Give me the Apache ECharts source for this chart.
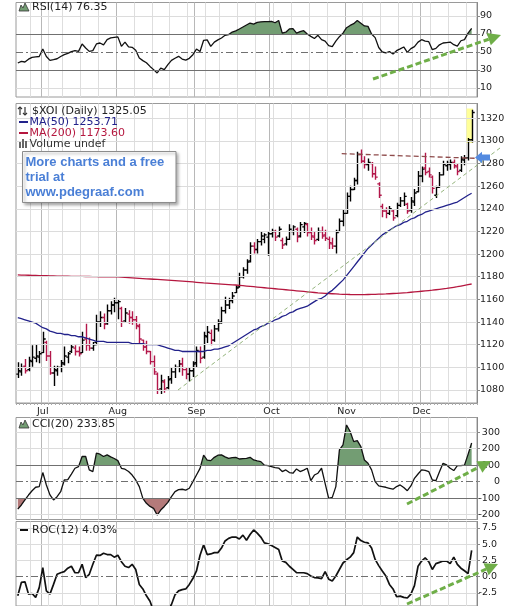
<!DOCTYPE html>
<html>
<head>
<meta charset="utf-8">
<title>$XOI Daily</title>
<script src="https://cdn.jsdelivr.net/npm/echarts@6/dist/echarts.min.js"></script>
<style>
  html, body { margin: 0; padding: 0; background: #fff; }
  #chart { width: 517px; height: 606px; }
</style>
</head>
<body>
<div id="chart"></div>
<script>
// trading days shown on the chart
const dates = [
  '2010-06-22','2010-06-23','2010-06-24','2010-06-25','2010-06-28','2010-06-29','2010-06-30',
  '2010-07-01','2010-07-02','2010-07-06','2010-07-07','2010-07-08','2010-07-09','2010-07-12','2010-07-13',
  '2010-07-14','2010-07-15','2010-07-16','2010-07-19','2010-07-20','2010-07-21','2010-07-22','2010-07-23',
  '2010-07-26','2010-07-27','2010-07-28','2010-07-29','2010-07-30',
  '2010-08-02','2010-08-03','2010-08-04','2010-08-05','2010-08-06','2010-08-09','2010-08-10','2010-08-11',
  '2010-08-12','2010-08-13','2010-08-16','2010-08-17','2010-08-18','2010-08-19','2010-08-20','2010-08-23',
  '2010-08-24','2010-08-25','2010-08-26','2010-08-27','2010-08-30','2010-08-31',
  '2010-09-01','2010-09-02','2010-09-03','2010-09-07','2010-09-08','2010-09-09','2010-09-10','2010-09-13',
  '2010-09-14','2010-09-15','2010-09-16','2010-09-17','2010-09-20','2010-09-21','2010-09-22','2010-09-23',
  '2010-09-24','2010-09-27','2010-09-28','2010-09-29','2010-09-30',
  '2010-10-01','2010-10-04','2010-10-05','2010-10-06','2010-10-07','2010-10-08','2010-10-11','2010-10-12',
  '2010-10-13','2010-10-14','2010-10-15','2010-10-18','2010-10-19','2010-10-20','2010-10-21','2010-10-22',
  '2010-10-25','2010-10-26','2010-10-27','2010-10-28','2010-10-29',
  '2010-11-01','2010-11-02','2010-11-03','2010-11-04','2010-11-05','2010-11-08','2010-11-09','2010-11-10',
  '2010-11-11','2010-11-12','2010-11-15','2010-11-16','2010-11-17','2010-11-18','2010-11-19','2010-11-22',
  '2010-11-23','2010-11-24','2010-11-26','2010-11-29','2010-11-30',
  '2010-12-01','2010-12-02','2010-12-03','2010-12-06','2010-12-07','2010-12-08','2010-12-09','2010-12-10',
  '2010-12-13','2010-12-14','2010-12-15','2010-12-16','2010-12-17','2010-12-20','2010-12-21'
];

const opens = [
  1094,1096,1101,1098,1105,1108,1109,1113,1122,1110,1095,1097,1100,1103,1109,1114,1117,1114,1113,1125,
  1120,1117,1122,1140,1144,1139,1150,1155,1157,1152,1141,1147,1144,1142,1136,1124,1118,1114,1105,1094,
  1081,1087,1082,1090,1096,1100,1103,1098,1094,1097,1104,1114,1109,1127,1130,1124,1134,1140,1150,1155,
  1159,1166,1171,1180,1186,1194,1207,1204,1211,1213,1215,1218,1220,1216,1212,1209,1213,1220,1222,1216,
  1224,1226,1219,1215,1213,1220,1217,1213,1209,1207,1220,1229,1236,1251,1257,1265,1288,1282,1279,1280,
  1271,1262,1242,1238,1236,1238,1234,1243,1247,1244,1239,1246,1255,1269,1276,1273,1268,1252,1259,1270,
  1278,1279,1281,1277,1274,1283,1285,1301
];
const highs = [
  1104,1103,1107,1109,1119,1120,1114,1131,1123,1114,1101,1101,1106,1118,1113,1120,1119,1118,1131,1138,
  1126,1122,1146,1149,1147,1155,1158,1161,1160,1153,1152,1150,1149,1145,1138,1124,1123,1114,1110,1095,
  1093,1089,1092,1099,1102,1106,1108,1099,1099,1105,1118,1118,1131,1136,1133,1137,1142,1153,1162,1161,
  1166,1172,1183,1188,1195,1210,1210,1213,1220,1218,1219,1222,1221,1224,1214,1215,1226,1225,1223,1228,
  1228,1227,1223,1219,1223,1224,1221,1215,1214,1221,1231,1239,1254,1260,1267,1290,1292,1286,1284,1281,
  1277,1263,1244,1241,1242,1239,1245,1250,1254,1245,1250,1257,1273,1277,1289,1276,1269,1260,1272,1282,
  1282,1283,1283,1280,1286,1287,1302,1327
];
const lows = [
  1091,1093,1095,1097,1101,1105,1104,1113,1106,1094,1084,1093,1096,1102,1104,1113,1111,1110,1113,1115,
  1115,1115,1120,1136,1134,1138,1147,1149,1143,1136,1140,1139,1138,1134,1122,1115,1112,1103,1094,1077,
  1077,1078,1081,1086,1091,1096,1093,1090,1088,1092,1100,1104,1108,1122,1120,1123,1132,1139,1148,1152,
  1157,1166,1171,1179,1183,1193,1201,1201,1208,1210,1199,1215,1212,1215,1205,1208,1213,1217,1211,1215,
  1219,1216,1213,1209,1212,1214,1212,1205,1205,1201,1220,1225,1236,1247,1257,1262,1280,1276,1274,1268,
  1266,1250,1233,1232,1235,1230,1233,1242,1243,1236,1237,1243,1255,1264,1270,1268,1254,1250,1259,1270,
  1274,1275,1276,1270,1273,1279,1283,1299
];
const closes = [
  1097,1100,1097,1106,1109,1110,1112,1125,1110,1095,1098,1100,1104,1110,1112,1118,1114,1112,1124,1120,
  1117,1120,1140,1144,1138,1150,1155,1157,1158,1140,1148,1144,1142,1137,1125,1118,1114,1105,1096,1080,
  1088,1081,1089,1096,1100,1103,1098,1094,1097,1103,1115,1108,1128,1131,1124,1134,1139,1150,1155,1159,
  1163,1170,1180,1186,1193,1207,1204,1211,1216,1217,1218,1220,1215,1222,1208,1213,1222,1224,1215,1226,
  1227,1219,1216,1212,1220,1216,1214,1210,1207,1219,1229,1236,1251,1257,1265,1288,1282,1279,1281,1271,
  1268,1252,1238,1236,1240,1232,1243,1247,1251,1238,1247,1254,1269,1275,1272,1270,1258,1259,1270,1279,
  1280,1281,1278,1273,1284,1285,1301,1325.05
];

const ma50 = [
  1144,1143,1142,1141,1140,1139,1137,1135,1134,1132,1131,1130,1130,1129,1129,1128,1128,1127,1127,1126,
  1125,1124,1123,1123,1123,1122,1122,1122,1122,1122,1122,1122,1121,1121,1121,1121,1120,1120,1120,1120,
  1119,1118,1117,1116,1115,1115,1114,1114,1114,1114,1114,1114,1114,1115,1115,1116,1116,1117,1118,1119,
  1121,1123,1125,1127,1129,1131,1133,1134,1136,1137,1139,1140,1142,1143,1145,1146,1148,1149,1151,1152,
  1153,1154,1156,1158,1160,1161,1163,1166,1168,1171,1174,1177,1181,1185,1189,1193,1197,1201,1205,1208,
  1211,1214,1217,1219,1221,1223,1225,1226,1228,1229,1231,1232,1234,1235,1237,1238,1239,1240,1241,1242,
  1243,1244,1245,1246,1248,1250,1252,1253.71
];
const ma200 = [
  1181.6,1181.5,1181.4,1181.3,1181.2,1181.1,1181,1181,1180.9,1180.8,1180.7,1180.6,1180.6,1180.5,1180.5,
  1180.4,1180.4,1180.3,1180.3,1180.2,1180.2,1180.1,1180.1,1180,1180,1180,1179.9,1179.9,1179.8,1179.6,
  1179.4,1179.2,1179,1178.8,1178.6,1178.4,1178.2,1178,1177.8,1177.6,1177.4,1177.2,1177,1176.8,1176.6,
  1176.4,1176.2,1176,1175.7,1175.4,1175.1,1174.8,1174.5,1174.3,1174.1,1173.9,1173.7,1173.5,1173.3,1173.1,
  1172.9,1172.7,1172.4,1172.1,1171.8,1171.5,1171.2,1170.9,1170.6,1170.3,1170,1169.7,1169.4,1169.1,1168.8,
  1168.5,1168.2,1167.9,1167.6,1167.3,1167,1166.7,1166.4,1166.1,1165.8,1165.6,1165.4,1165.2,1165,1164.8,
  1164.6,1164.5,1164.4,1164.3,1164.2,1164.2,1164.2,1164.2,1164.3,1164.4,1164.5,1164.6,1164.7,1164.8,1165,
  1165.2,1165.4,1165.6,1165.8,1166,1166.3,1166.6,1166.9,1167.2,1167.5,1167.8,1168.1,1168.5,1168.9,1169.3,
  1169.7,1170.2,1170.7,1171.2,1171.8,1172.4,1173,1173.6
];

const rsi = [
  37.8,39.6,38.9,42,44,44.5,45,53.3,45,40.7,41.5,42.5,45,47,48.5,50.5,51.5,50.7,58.9,54.4,
  50.7,51.5,58.9,60,58,63.7,65.6,66.3,66.8,56.3,61,55.6,55.2,52,43.3,40.4,38,34,30.4,26.7,
  32,30.4,36,40.7,43,45.2,42.2,41,43,47,53.3,50.5,63,63.5,56.3,61,63.5,65.6,68.5,69.3,
  72.2,73.5,75.6,77.8,80,82.2,81,83,83.5,83.7,83.7,84,82.5,85,71,72,75.6,76,71,72.6,
  73.7,70,67.4,65,68.5,63.7,62,57,56,62,67,71,77,79.5,81.5,85,82,79,78.5,70,
  66,55,50,49,50.5,47.8,51.5,53.5,55.6,49.6,53.7,56,61,63.7,62,61.5,52.6,54,58,60,
  60.5,61,58.1,56.5,62.5,63.7,71,76.35
];
const cci = [
  -166,-141,-111,-81,-55,-34,-30,55,-20,-80,-111,-91,-61,10,12,46,81,91,152,152,
  71,61,172,166,152,162,150,140,127,81,75,61,40,10,-30,-101,-131,-150,-162,-202,
  -172,-150,-125,-91,-60,-48,-46,-51,-40,0,40,80,160,130,127,147,160,162,150,141,
  145,147,137,139,141,147,131,125,121,100,97,91,85,82,61,71,55,51,77,61,
  70,81,6,40,51,81,-10,-101,-95,-30,192,222,343,303,242,248,212,131,111,71,
  0,-26,-30,-34,-40,-46,-30,-20,-35,-55,-26,20,46,71,68,61,10,6,60,111,
  101,81,67,97,97,100,165,233.85
];
const roc = [
  -2.96,-0.9,-0.8,-2.7,-2.6,-3.2,-1.7,1.4,-2.2,-2.7,-1.2,0.36,0.6,0.77,1.3,1.6,0.6,0.6,1.9,-0.15,
  0.36,1.9,3.3,3.27,3.6,3.4,3.4,3.0,3.3,2.3,1.6,1.4,1.9,1.1,-1.2,-1.9,-2.96,-3.8,-5.3,-6.2,
  -5.8,-6.0,-5.2,-4.3,-2.8,-2.2,-2.0,-1.9,-1.2,-0.3,0.87,3.3,4.9,3.4,3.5,3.7,3.7,4.4,5.5,5.9,
  6.1,6.1,5.8,6.4,5.6,6.5,7.2,6.7,6.1,5.2,5.05,4.8,4.5,4.2,2.4,2.2,1.6,1.1,0.6,0.6,
  0.6,0.46,0.1,-0.15,-0.2,-0.3,0.77,-0.4,-0.66,0.1,1.1,2.1,2.6,3.0,3.7,6.1,5.56,5.3,5.2,4.4,
  2.65,1.7,0.87,0.1,-1.2,-1.9,-3.1,-3.0,-3.2,-3.3,-2.7,-1.4,1.6,2.4,2.9,2.3,1.1,2.0,2.2,2.4,
  2.4,2.0,3.0,1.9,1.3,0.9,0.46,4.03
];

const rsiTicks = [10, 30, 50, 70, 90];
const priceTicks = [1080, 1100, 1120, 1140, 1160, 1180, 1200, 1220, 1240, 1260, 1280, 1300, 1320];
const cciTicks = [-200, -100, 0, 100, 200, 300];
const rocTicks = [-2.5, 0, 2.5, 5, 7.5];
const monthNames = ['Jan','Feb','Mar','Apr','May','Jun','Jul','Aug','Sep','Oct','Nov','Dec'];

const UP = '#000000';
const DOWN = '#b3174a';
const MA50_COLOR = '#22228b';
const MA200_COLOR = '#b5173f';
const GREEN = '#739d73';
const RED_FILL = '#b47a7a';
const ARROW_GREEN = '#6fae48';
const FONT = 'DejaVu Sans';

// one empty slot at the right edge, like the original
const cats = dates.concat(['']);

const weekStart = cats.map((d, i) => {
  if (!d || i === 0) return false;
  const a = new Date(cats[i - 1] + 'T00:00:00Z');
  const b = new Date(d + 'T00:00:00Z');
  return b.getUTCDay() < a.getUTCDay() || (b - a) >= 7 * 864e5;
});
const monthStart = cats.map((d, i) => i > 0 && !!d && d.slice(5, 7) !== cats[i - 1].slice(5, 7));

const ohlc = closes.map((c, i) => [i, opens[i], highs[i], lows[i], c, i > 0 && c < closes[i - 1] ? 1 : 0]);

function renderOHLC(params, api) {
  const i = api.value(0);
  const o = api.coord([i, api.value(1)]);
  const h = api.coord([i, api.value(2)]);
  const l = api.coord([i, api.value(3)]);
  const c = api.coord([i, api.value(4)]);
  const style = { stroke: api.value(5) ? DOWN : UP, lineWidth: 1.4 };
  const x = Math.round(h[0]) + 0.5;
  return {
    type: 'group',
    children: [
      { type: 'line', shape: { x1: x, y1: h[1] - 0.5, x2: x, y2: l[1] + 0.5 }, style },
      { type: 'line', shape: { x1: x - 2.2, y1: o[1], x2: x, y2: o[1] }, style },
      { type: 'line', shape: { x1: x, y1: c[1], x2: x + 2.2, y2: c[1] }, style }
    ]
  };
}

const GRID_LIGHT = { color: '#dcdcdc', width: 1, type: 'solid' };
const REF_LINE = { color: '#707070', width: 1, type: 'solid' };
const DASH_DOT = { color: '#707070', width: 1, type: [7, 3, 2, 3] };

function hLines(values, style) {
  return values.map(v => ({ yAxis: v, lineStyle: style }));
}
function markLines(data) {
  return { silent: true, symbol: 'none', label: { show: false }, animation: false, data };
}

function xPair(gi, withLabels) {
  return [
    {
      type: 'category', gridIndex: gi, data: cats, boundaryGap: true, position: 'bottom',
      axisLine: { show: withLabels, lineStyle: { color: '#999' } },
      axisTick: { show: withLabels, interval: 0, length: 2, lineStyle: { color: '#aaa' } },
      axisLabel: { show: false },
      splitLine: { show: true, interval: (i) => weekStart[i] && !monthStart[i], lineStyle: { color: '#dedede' } }
    },
    {
      type: 'category', gridIndex: gi, data: cats, boundaryGap: true, position: 'bottom',
      axisLine: { show: false }, axisTick: { show: false },
      axisLabel: {
        show: withLabels, interval: (i) => monthStart[i], margin: 4,
        formatter: (v) => v ? monthNames[+v.slice(5, 7) - 1] : '',
        color: '#222', fontFamily: FONT, fontSize: 9.5
      },
      splitLine: { show: true, interval: (i) => monthStart[i], lineStyle: { color: '#b8b8b8' } }
    }
  ];
}

function yAxis(gi, min, max, ticks, fmt, align, margin) {
  return {
    type: 'value', gridIndex: gi, position: 'right', min, max,
    axisLine: { show: true, lineStyle: { color: '#888' } },
    axisTick: { show: true, customValues: ticks, length: 3, lineStyle: { color: '#888' } },
    axisLabel: {
      customValues: ticks, formatter: fmt, color: '#222', fontFamily: FONT, fontSize: 9.5,
      align, margin
    },
    splitLine: { show: false }
  };
}

function arrow(x1, y1, x2, y2) {
  const dx = x2 - x1, dy = y2 - y1, len = Math.hypot(dx, dy);
  const ux = dx / len, uy = dy / len, hl = 13, hw = 6.5;
  const bx = x2 - ux * hl, by = y2 - uy * hl;
  return [
    { type: 'line', z: 100, shape: { x1, y1, x2: bx, y2: by },
      style: { stroke: ARROW_GREEN, lineWidth: 3, lineDash: [6, 3] } },
    { type: 'polygon', z: 100,
      shape: { points: [[x2, y2], [bx - uy * hw, by + ux * hw], [bx + uy * hw, by - ux * hw]] },
      style: { fill: ARROW_GREEN } }
  ];
}

function label(text, x, y, color, extra) {
  return Object.assign({
    type: 'text', z: 90,
    style: { text, x, y, fill: color || '#222', fontFamily: FONT, fontSize: 11, verticalAlign: 'middle' }
  }, extra || {});
}

function mountain(y) {
  return { type: 'polygon', z: 90,
    shape: { points: [[19, y + 4], [21, y - 2], [23, y + 1], [25, y - 4], [29, y + 4]] },
    style: { fill: GREEN, stroke: '#333', lineWidth: 0.8 } };
}

const graphics = [
  // yellow highlight of the last bar
  { type: 'rect', z: 1, shape: { x: 466.5, y: 108.5, width: 6.5, height: 34.5 }, style: { fill: '#ffff99' } },

  // panel titles
  mountain(7), label('RSI(14) 76.35', 32, 7),
  { type: 'polyline', z: 90, shape: { points: [[20, 107], [20, 115]] }, style: { stroke: '#333', lineWidth: 1.2 } },
  { type: 'polyline', z: 90, shape: { points: [[18, 109], [20, 107], [22, 109]] }, style: { stroke: '#333', lineWidth: 1.2, fill: null } },
  { type: 'polyline', z: 90, shape: { points: [[25, 107], [25, 115]] }, style: { stroke: '#333', lineWidth: 1.2 } },
  { type: 'polyline', z: 90, shape: { points: [[23, 113], [25, 115], [27, 113]] }, style: { stroke: '#333', lineWidth: 1.2, fill: null } },
  label('$XOI (Daily) 1325.05', 32, 111),
  { type: 'line', z: 90, shape: { x1: 19, y1: 122, x2: 28, y2: 122 }, style: { stroke: MA50_COLOR, lineWidth: 2 } },
  label('MA(50) 1253.71', 29.5, 122, MA50_COLOR),
  { type: 'line', z: 90, shape: { x1: 19, y1: 133, x2: 28, y2: 133 }, style: { stroke: MA200_COLOR, lineWidth: 2 } },
  label('MA(200) 1173.60', 29.5, 133, MA200_COLOR),
  { type: 'rect', z: 90, shape: { x: 19, y: 142, width: 2, height: 6 }, style: { fill: '#666' } },
  { type: 'rect', z: 90, shape: { x: 22, y: 139, width: 2, height: 9 }, style: { fill: '#666' } },
  { type: 'rect', z: 90, shape: { x: 25, y: 141, width: 2, height: 7 }, style: { fill: '#666' } },
  label('Volume undef', 29.5, 144, '#333'),
  mountain(424), label('CCI(20) 233.85', 32, 424.5),
  { type: 'line', z: 90, shape: { x1: 20, y1: 530, x2: 28, y2: 530 }, style: { stroke: '#111', lineWidth: 2 } },
  label('ROC(12) 4.03%', 32, 530),

  // promo box
  { type: 'rect', z: 95, shape: { x: 22.5, y: 151.5, width: 153.5, height: 51 },
    style: { fill: '#fff', stroke: '#8c8c8c', lineWidth: 1, shadowBlur: 3, shadowOffsetX: 2, shadowOffsetY: 2, shadowColor: 'rgba(0,0,0,0.35)' } },
  { type: 'text', z: 96, style: { text: 'More charts and a free', x: 25.5, y: 162, fill: '#4a7fd6', fontFamily: 'Liberation Sans', fontWeight: 'bold', fontSize: 13, verticalAlign: 'middle' } },
  { type: 'text', z: 96, style: { text: 'trial at', x: 25.5, y: 177, fill: '#4a7fd6', fontFamily: 'Liberation Sans', fontWeight: 'bold', fontSize: 13, verticalAlign: 'middle' } },
  { type: 'text', z: 96, style: { text: 'www.pdegraaf.com', x: 25.5, y: 192, fill: '#4a7fd6', fontFamily: 'Liberation Sans', fontWeight: 'bold', fontSize: 13, verticalAlign: 'middle' } },

  // drawn trend lines and markers
  { type: 'line', z: 100, shape: { x1: 178, y1: 390, x2: 500, y2: 148 }, style: { stroke: '#94b47c', lineWidth: 1, lineDash: [4, 3] } },
  { type: 'line', z: 100, shape: { x1: 341.7, y1: 153.7, x2: 476, y2: 158.3 }, style: { stroke: '#8e4b4b', lineWidth: 1.3, lineDash: [5, 3] } },
  { type: 'polygon', z: 100,
    shape: { points: [[475, 157.5], [482, 151.7], [482, 154.5], [490, 154.5], [490, 160.5], [482, 160.5], [482, 163.3]] },
    style: { fill: '#538ae0' } }
].concat(arrow(373, 79, 501, 35), arrow(407, 504, 491, 461), arrow(407, 604, 498, 564));

const gridBase = { left: 16, width: 461, show: true, borderColor: '#9a9a9a', borderWidth: 1, backgroundColor: 'transparent' };

const option = {
  animation: false,
  backgroundColor: '#fff',
  grid: [
    Object.assign({ top: 2.5, height: 94.5 }, gridBase),
    Object.assign({ top: 103.5, height: 299.5 }, gridBase),
    Object.assign({ top: 417.5, height: 102 }, gridBase),
    Object.assign({ top: 521.5, height: 85.5 }, gridBase)
  ],
  xAxis: [].concat(xPair(0, false), xPair(1, true), xPair(2, false), xPair(3, false)),
  yAxis: [
    yAxis(0, 0, 105, rsiTicks, (v) => String(v), 'left', 3),
    yAxis(1, 1068.5, 1333, priceTicks, (v) => String(v), 'left', 3),
    yAxis(2, -229, 388, cciTicks, (v) => String(v), 'right', 23),
    yAxis(3, -4.53, 8.5, rocTicks, (v) => v.toFixed(1), 'right', 20)
  ],
  visualMap: [
    { type: 'piecewise', show: false, seriesIndex: 3,
      pieces: [{ gte: -1000, lte: 70, color: 'rgba(0,0,0,0)' }, { gt: 70, lte: 1000, color: GREEN }],
      outOfRange: { color: 'rgba(0,0,0,0)' } },
    { type: 'piecewise', show: false, seriesIndex: 5,
      pieces: [
        { gte: -10000, lt: -100, color: RED_FILL },
        { gte: -100, lte: 100, color: 'rgba(0,0,0,0)' },
        { gt: 100, lte: 10000, color: GREEN }
      ],
      outOfRange: { color: 'rgba(0,0,0,0)' } }
  ],
  series: [
    {
      name: 'MA(200)', type: 'line', xAxisIndex: 2, yAxisIndex: 1, data: ma200,
      showSymbol: false, lineStyle: { color: MA200_COLOR, width: 1.3 }, itemStyle: { color: MA200_COLOR },
      markLine: markLines(hLines(priceTicks, GRID_LIGHT))
    },
    {
      name: 'MA(50)', type: 'line', xAxisIndex: 2, yAxisIndex: 1, data: ma50,
      showSymbol: false, lineStyle: { color: MA50_COLOR, width: 1.3 }, itemStyle: { color: MA50_COLOR }
    },
    {
      name: '$XOI', type: 'custom', xAxisIndex: 2, yAxisIndex: 1, data: ohlc,
      renderItem: renderOHLC, encode: { x: 0, y: [1, 2, 3, 4] }, clip: true
    },
    {
      name: 'RSI fill', type: 'line', xAxisIndex: 0, yAxisIndex: 0, data: rsi,
      showSymbol: false, lineStyle: { width: 0, opacity: 0 }, areaStyle: { origin: 70, opacity: 1 },
      markLine: markLines([].concat(hLines([10, 90], GRID_LIGHT), hLines([30, 70], REF_LINE), hLines([50], DASH_DOT)))
    },
    {
      name: 'RSI(14)', type: 'line', xAxisIndex: 0, yAxisIndex: 0, data: rsi,
      showSymbol: false, lineStyle: { color: '#111', width: 1.3 }, itemStyle: { color: '#111' }
    },
    {
      name: 'CCI fill', type: 'line', xAxisIndex: 4, yAxisIndex: 2, data: cci,
      showSymbol: false, lineStyle: { width: 0, opacity: 0 }, areaStyle: { origin: 0, opacity: 1 },
      markLine: markLines([].concat(hLines([-200, 200, 300], GRID_LIGHT), hLines([-100, 100], REF_LINE), hLines([0], DASH_DOT)))
    },
    {
      name: 'CCI(20)', type: 'line', xAxisIndex: 4, yAxisIndex: 2, data: cci,
      showSymbol: false, lineStyle: { color: '#111', width: 1.3 }, itemStyle: { color: '#111' }
    },
    {
      name: 'ROC(12)', type: 'line', xAxisIndex: 6, yAxisIndex: 3, data: roc,
      showSymbol: false, lineStyle: { color: '#111', width: 1.7 }, itemStyle: { color: '#111' },
      markLine: markLines([].concat(hLines([-2.5, 2.5, 5, 7.5], GRID_LIGHT), hLines([0], DASH_DOT)))
    }
  ],
  graphic: { elements: graphics }
};

const chart = echarts.init(document.getElementById('chart'));
chart.setOption(option);
</script>
</body>
</html>
